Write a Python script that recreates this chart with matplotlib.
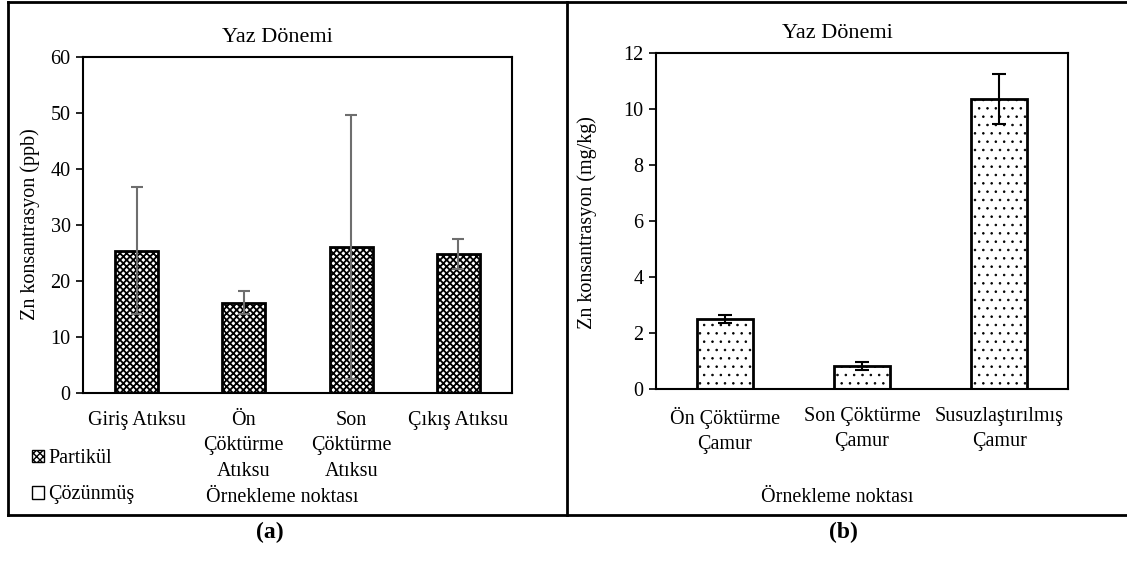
import numpy as np
import matplotlib
matplotlib.use('Agg')
import matplotlib.pyplot as plt
from matplotlib.patches import Patch
from matplotlib.lines import Line2D

plt.rcParams['font.family'] = ['Liberation Serif', 'DejaVu Serif']

# (a) su numuneleri
labels_a = ['Giriş Atıksu', 'Ön\nÇöktürme\nAtıksu', 'Son\nÇöktürme\nAtıksu', 'Çıkış Atıksu']
partikul_a = [25.4, 16.1, 26.1, 24.8]
err_a = [11.3, 2.05, 23.6, 2.7]

# (b) camur numuneleri
labels_b = ['Ön Çöktürme\nÇamur', 'Son Çöktürme\nÇamur', 'Susuzlaştırılmış\nÇamur']
camur_b = [2.49, 0.83, 10.36]
err_b = [0.15, 0.14, 0.9]

W, H = 1127, 576
fig = plt.figure(figsize=(W / 100, H / 100), dpi=100)

def fx(px):
    return px / W

def fy(py):
    return 1 - py / H

def style_axes(ax):
    for s in ax.spines.values():
        s.set_linewidth(1.5)
        s.set_color('black')
    ax.tick_params(axis='y', direction='out', length=5, width=1.2, labelsize=14.5, pad=4)
    ax.tick_params(axis='x', length=0, labelsize=14.5, pad=13)

# --- panel a ---
ax1 = fig.add_axes([fx(83), fy(393), fx(512 - 83), fy(57) - fy(393)])
x1 = np.arange(len(labels_a))
bars_a = ax1.bar(x1, partikul_a, width=0.4, color='white', edgecolor='black', linewidth=2, hatch='xxxxx')
for b in bars_a:
    b.set_hatch_linewidth(1.3)
ax1.errorbar(x1, partikul_a, yerr=err_a, fmt='none', ecolor='#6e6e6e', elinewidth=1.5, capsize=4, capthick=1.5)
ax1.set_xlim(-0.5, len(labels_a) - 0.5)
ax1.set_ylim(0, 60)
ax1.set_yticks(range(0, 61, 10))
ax1.set_xticks(x1)
ax1.set_xticklabels(labels_a, linespacing=1.45)
style_axes(ax1)

h1 = Patch(facecolor='white', edgecolor='black', hatch='xxxxx', label='Partikül')
h1.set_hatch_linewidth(1.3)
h2 = Patch(facecolor='white', edgecolor='black', label='Çözünmüş')
fig.legend(handles=[h1, h2], loc='upper left', bbox_to_anchor=(fx(14), fy(431)), frameon=False,
           fontsize=14.5, handlelength=0.6, handleheight=0.6, handletextpad=0.2, labelspacing=0.85)

fig.text(fx(277), fy(38), 'Yaz Dönemi', ha='center', va='center', fontsize=16)
fig.text(fx(282), fy(498), 'Örnekleme noktası', ha='center', va='center', fontsize=14.5)
fig.text(fx(30), fy(224), 'Zn konsantrasyon (ppb)', ha='center', va='center', rotation=90, fontsize=14.5)
fig.text(fx(270), fy(532), '(a)', ha='center', va='center', fontsize=17, fontweight='bold')

# --- panel b ---
ax2 = fig.add_axes([fx(656), fy(389), fx(1068 - 656), fy(53) - fy(389)])
x2 = np.arange(len(labels_b))
bars_b = ax2.bar(x2, camur_b, width=0.41, color='white', edgecolor='black', linewidth=2, hatch='..')
for b in bars_b:
    b.set_hatch_linewidth(0.6)
ax2.errorbar(x2, camur_b, yerr=err_b, fmt='none', ecolor='black', elinewidth=1.5, capsize=5, capthick=1.5)
ax2.set_xlim(-0.5, len(labels_b) - 0.5)
ax2.set_ylim(0, 12)
ax2.set_yticks(range(0, 13, 2))
ax2.set_xticks(x2)
ax2.set_xticklabels(labels_b, linespacing=1.45)
style_axes(ax2)

fig.text(fx(837), fy(33), 'Yaz Dönemi', ha='center', va='center', fontsize=16)
fig.text(fx(837), fy(498), 'Örnekleme noktası', ha='center', va='center', fontsize=14.5)
fig.text(fx(587), fy(223), 'Zn konsantrasyon (mg/kg)', ha='center', va='center', rotation=90, fontsize=14.5)
fig.text(fx(843), fy(532), '(b)', ha='center', va='center', fontsize=17, fontweight='bold')

# dis cerceve
for xs, ys in [([fx(8), fx(8)], [fy(2), fy(515)]),
               ([fx(8), 1], [fy(2), fy(2)]),
               ([fx(8), 1], [fy(515), fy(515)]),
               ([fx(567), fx(567)], [fy(2), fy(515)])]:
    fig.add_artist(Line2D(xs, ys, color='black', linewidth=2, transform=fig.transFigure))

fig.savefig('out.png', dpi=100)
